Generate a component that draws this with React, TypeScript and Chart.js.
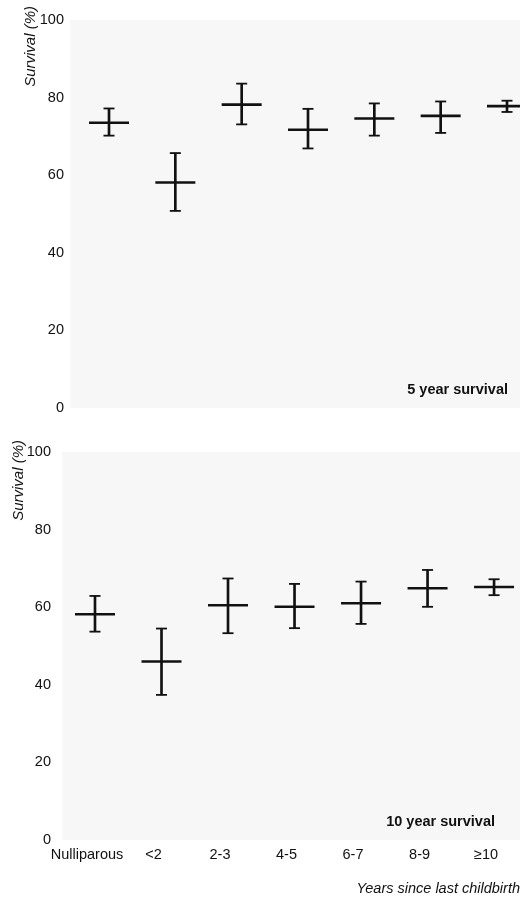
import React, { useEffect, useRef } from 'react';
import { Chart, registerables } from 'chart.js';

Chart.register(...registerables);

// ---- data ----
const categories = ['Nulliparous', '<2', '2-3', '4-5', '6-7', '8-9', '≥10'];
const yTicks = [0, 20, 40, 60, 80, 100];

const fiveYearEst = [73.5, 58.1, 78.2, 71.7, 74.6, 75.3, 77.8];
const fiveYearLow = [70.2, 50.8, 73.1, 66.9, 70.2, 70.9, 76.3];
const fiveYearHigh = [77.2, 65.7, 83.6, 77.1, 78.5, 79.0, 79.2];

const tenYearEst = [58.2, 46.0, 60.5, 60.1, 61.0, 64.9, 65.2];
const tenYearLow = [53.7, 37.4, 53.3, 54.6, 55.7, 60.1, 63.1];
const tenYearHigh = [62.9, 54.5, 67.4, 66.0, 66.6, 69.6, 67.2];

const yTitle = 'Survival (%)';
const xTitle = 'Years since last childbirth';
const fiveLabel = '5 year survival';
const tenLabel = '10 year survival';

const FONT = "'Liberation Sans', Arial, sans-serif";
const INK = '#111';

const panelTextPlugin = {
  id: 'panelText',
  beforeDraw(chart: any) {
    const { ctx, chartArea } = chart;
    ctx.save();
    ctx.fillStyle = '#f7f7f7';
    ctx.fillRect(chartArea.left, chartArea.top, chartArea.right - chartArea.left, chartArea.bottom - chartArea.top);
    ctx.restore();
  },
  afterDraw(chart: any, _a: any, opts: any) {
    const ctx = chart.ctx;
    ctx.save();
    ctx.fillStyle = INK;
    ctx.font = `italic 15px ${FONT}`;
    ctx.translate(opts.yTitleX, opts.yTitleY);
    ctx.rotate(-Math.PI / 2);
    ctx.textAlign = 'right';
    ctx.textBaseline = 'middle';
    ctx.fillText(opts.yTitle, 0, 0);
    ctx.restore();
    ctx.save();
    ctx.fillStyle = INK;
    ctx.font = `bold 14.5px ${FONT}`;
    ctx.textAlign = 'right';
    ctx.textBaseline = 'middle';
    ctx.fillText(opts.label, opts.labelX, opts.labelY);
    ctx.restore();
  },
};

type PanelProps = {
  est: number[];
  low: number[];
  high: number[];
  xMin: number;
  xMax: number;
  yAxisWidth: number;
  tickPad: number;
  showX: boolean;
  width: number;
  height: number;
  top: number;
  padTop: number;
  padBottom: number;
  label: string;
  labelX: number;
  labelY: number;
  yTitleX: number;
  yTitleY: number;
};

function Panel(p: PanelProps) {
  const ref = useRef<HTMLCanvasElement | null>(null);
  useEffect(() => {
    if (!ref.current) return;
    const idx = categories.map((_, i) => i);
    const chart = new Chart(ref.current, {
      type: 'bar',
      data: {
        datasets: [
          {
            type: 'bar',
            data: idx.map((i) => ({ x: i, y: [p.low[i], p.high[i]] })) as any,
            backgroundColor: INK,
            borderWidth: 0,
            barThickness: 2,
            grouped: false,
            order: 3,
          } as any,
          {
            type: 'scatter',
            data: idx.map((i) => ({ x: i, y: p.est[i] })),
            pointStyle: 'line',
            pointRadius: 20,
            pointBorderWidth: 2.6,
            pointBorderColor: INK,
            pointBackgroundColor: INK,
            order: 1,
          } as any,
          {
            type: 'scatter',
            data: idx.map((i) => ({ x: i, y: p.low[i] })),
            pointStyle: 'line',
            pointRadius: 5.5,
            pointBorderWidth: 1.8,
            pointBorderColor: INK,
            order: 2,
          } as any,
          {
            type: 'scatter',
            data: idx.map((i) => ({ x: i, y: p.high[i] })),
            pointStyle: 'line',
            pointRadius: 5.5,
            pointBorderWidth: 1.8,
            pointBorderColor: INK,
            order: 2,
          } as any,
        ],
      },
      options: {
        animation: false,
        responsive: false,
        events: [],
        layout: { autoPadding: false, padding: { top: p.padTop, bottom: p.padBottom, left: 0, right: 0 } },
        plugins: {
          legend: { display: false },
          tooltip: { enabled: false },
          panelText: {
            yTitle,
            label: p.label,
            labelX: p.labelX,
            labelY: p.labelY,
            yTitleX: p.yTitleX,
            yTitleY: p.yTitleY,
          },
        } as any,
        scales: {
          x: {
            type: 'linear',
            offset: false,
            min: p.xMin,
            max: p.xMax,
            display: p.showX,
            grid: { display: false, drawTicks: false, offset: false },
            border: { display: false },
            afterBuildTicks: (scale: any) => {
              scale.ticks = categories.map((_, i) => ({ value: i }));
            },
            afterFit: (scale: any) => {
              if (p.showX) scale.height = 59;
              scale.paddingLeft = 0;
              scale.paddingRight = 0;
            },
            ticks: {
              color: INK,
              font: { family: FONT, size: 14.5 },
              padding: 6,
              labelOffset: -8,
              maxRotation: 0,
              autoSkip: false,
              callback: (v: any) => categories[Math.round(Number(v))] ?? '',
            },
            title: {
              display: true,
              text: xTitle,
              align: 'end',
              color: INK,
              font: { family: FONT, size: 14.5, style: 'italic' },
              padding: { top: 0, bottom: 1 },
            },
          },
          y: {
            type: 'linear',
            min: 0,
            max: 100,
            grid: { display: false, drawTicks: false },
            border: { display: false },
            afterBuildTicks: (scale: any) => {
              scale.ticks = yTicks.map((v) => ({ value: v }));
            },
            afterFit: (scale: any) => {
              scale.width = p.yAxisWidth;
              scale.paddingTop = 0;
              scale.paddingBottom = 0;
            },
            ticks: {
              color: INK,
              font: { family: FONT, size: 14.5 },
              padding: p.tickPad,
            },
          },
        },
      } as any,
      plugins: [panelTextPlugin as any],
    });
    return () => chart.destroy();
  }, []);
  return (
    <div style={{ position: 'absolute', left: 0, top: p.top, width: p.width, height: p.height }}>
      <canvas ref={ref} width={p.width} height={p.height} style={{ display: 'block' }} />
    </div>
  );
}

export default function App() {
  return (
    <div style={{ position: 'absolute', left: 0, top: 0, width: 520, height: 899, background: '#fff' }}>
      <Panel
        est={fiveYearEst}
        low={fiveYearLow}
        high={fiveYearHigh}
        xMin={-0.588}
        xMax={6.196}
        yAxisWidth={70}
        tickPad={6}
        showX={false}
        width={520}
        height={440}
        top={0}
        padTop={20}
        padBottom={32}
        label={fiveLabel}
        labelX={508}
        labelY={390}
        yTitleX={31}
        yTitleY={6}
      />
      <Panel
        est={tenYearEst}
        low={tenYearLow}
        high={tenYearHigh}
        xMin={-0.496}
        xMax={6.39}
        yAxisWidth={62}
        tickPad={11}
        showX={true}
        width={520}
        height={459}
        top={440}
        padTop={12}
        padBottom={0}
        label={tenLabel}
        labelX={495}
        labelY={382}
        yTitleX={19}
        yTitleY={0}
      />
    </div>
  );
}
